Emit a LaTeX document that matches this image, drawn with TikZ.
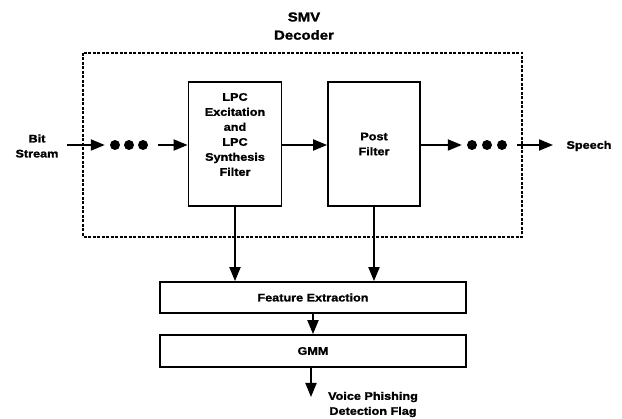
\documentclass[tikz,border=0pt]{standalone}
\usepackage{fontspec}
\setmainfont{Liberation Sans}[FakeStretch=1.15, FakeBold=1.5]
\usetikzlibrary{arrows.meta}
\begin{document}
\begin{tikzpicture}[x=1pt,y=-1pt,
  every node/.style={font=\bfseries\fontsize{11}{15}\selectfont, align=center, inner sep=0pt},
  arr/.style={line width=2pt, -{Triangle[length=14pt,width=11pt]}},
  dot/.style={circle, fill=black, minimum size=10pt, inner sep=0pt},
  blk/.style={draw, line width=1.8pt},
  dashbox/.style={draw, line width=2pt, dash pattern=on 3pt off 1.5pt}]
\useasboundingbox (0,0) rectangle (622,419);
% decoder frame
\node[font=\bfseries\fontsize{13}{15}\selectfont] (smv) at (304,17) {SMV};
\node[font=\bfseries\fontsize{13}{15}\selectfont] (dec) at (304,35) {Decoder};
\draw[dashbox] (83,53) rectangle (522,237);
% blocks
\node[blk, minimum width=93pt, minimum height=124pt] (lpc) at (235,144) {};
\node at (235,134.5) {LPC\\Excitation\\and\\LPC\\Synthesis\\Filter};
\node[blk, minimum width=92pt, minimum height=124pt] (post) at (374,144) {Post\\Filter};
\node[blk, minimum width=306pt, minimum height=31pt] (feat) at (313,297.5) {Feature Extraction};
\node[blk, minimum width=306pt, minimum height=32pt] (gmm) at (313,351) {GMM};
% labels
\node (bit) at (37,146) {Bit\\Stream};
\node (speech) at (589,146) {Speech};
\node (flag) at (373,404.5) {Voice Phishing\\Detection Flag};
% dots
\node[dot] (a1) at (115,145) {};
\node[dot] (a2) at (129,145) {};
\node[dot] (a3) at (143,145) {};
\node[dot] (b1) at (472,145) {};
\node[dot] (b2) at (487,145) {};
\node[dot] (b3) at (502,145) {};
\coordinate (bitS) at (67,145);
\coordinate (outE) at (553,145);
\coordinate (flagN) at (311,397);
% arrows
\draw[arr] (bitS) -- ([xshift=-5pt]a1.west);
\draw[arr] ([xshift=10pt]a3.east) -- (lpc.west |- a3);
\draw[arr] (lpc.east |- a3) -- (post.west |- a3);
\draw[arr] (post.east |- b1) -- ([xshift=-5pt]b1.west);
\draw[arr] ([xshift=10pt]b3.east) -- (outE);
\draw[arr] (lpc.south) -- (lpc.south |- feat.north);
\draw[arr] (post.south) -- (post.south |- feat.north);
\draw[arr] (feat.south) -- (gmm.north);
\draw[arr] ([xshift=-2pt]gmm.south) -- (flagN);
\end{tikzpicture}
\end{document}
